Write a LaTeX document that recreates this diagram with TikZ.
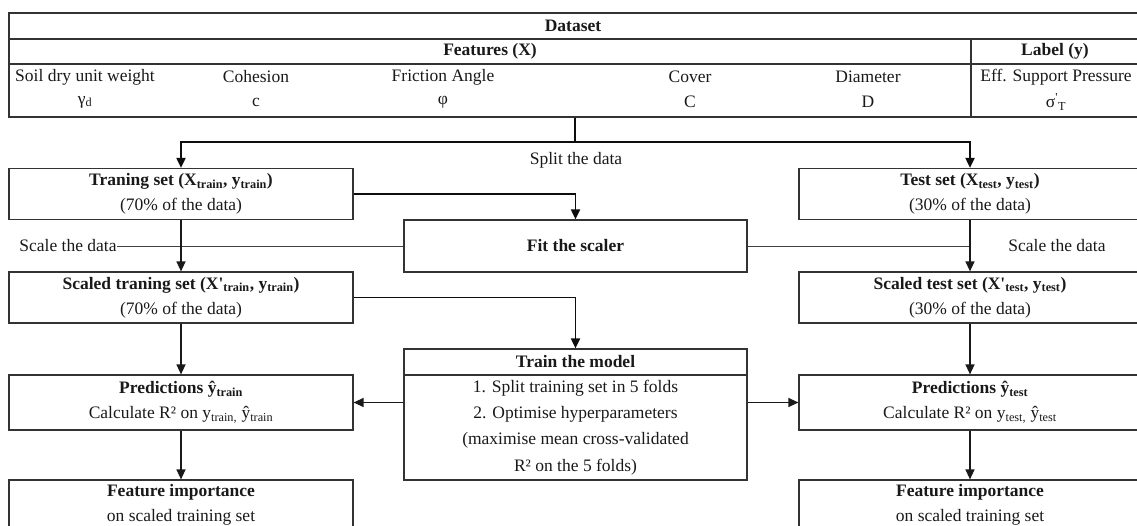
\documentclass[tikz,border=0pt]{standalone}
\usepackage{fontspec}
\setmainfont{Liberation Serif}
\usetikzlibrary{arrows.meta}
\begin{document}
\begin{tikzpicture}[x=1pt,y=-1pt,
  every node/.style={font=\fontsize{17.5}{25}\selectfont, inner sep=0pt, text=black!90},
  box/.style={draw=black!80, line width=1.2pt, inner sep=0pt, align=center},
  hd/.style={font=\fontsize{17.5}{25}\selectfont\bfseries},
  conn/.style={draw=black!90, line width=1.3pt},
  bold conn/.style={draw=black!95, line width=1.9pt},
  thinline/.style={draw=black!75, line width=0.9pt},
  arr/.style={-{Triangle[length=10pt,width=9pt]}}]
\useasboundingbox (0,0) rectangle (1137,526);
\clip (0,0) rectangle (1137,526);
% ---------------- table ----------------
\node[box, minimum width=1132pt, minimum height=104pt] (table) at (575,65) {};
\draw[draw=black!80, line width=1.2pt] (9,39) -- (1141,39);
\draw[draw=black!80, line width=1.2pt] (9,64) -- (1141,64);
\draw[draw=black!80, line width=1.2pt] (971,39) -- (971,117);
\node[hd] (tds) at (573,26) {Dataset};
\node[hd] (tfx) at (490,51) {Features (X)};
\node[hd] (tly) at (1055,51) {Label (y)};
\node (c1) at (85,77) {Soil dry unit weight};
\node (c2) at (256,77) {Cohesion};
\node (c3) at (443,77) {Friction Angle};
\node (c4) at (690,77) {Cover};
\node (c5) at (868,77) {Diameter};
\node (c6) at (1056,77) {Eff. Support Pressure};
\node (s1) at (85,102) {γ\textsubscript{d}};
\node (s2) at (256,102) {c};
\node (s3) at (443,102) {φ};
\node (s4) at (690,102) {C};
\node (s5) at (868,102) {D};
\node (s6) at (1056,102) {σ\textsuperscript{\textquotesingle}\textsubscript{T}};
% ---------------- boxes ----------------
\node[box, minimum width=344pt, minimum height=51pt] (train) at (181,194)
  {\textbf{Traning set (X\textsubscript{train}, y\textsubscript{train})}\\(70\% of the data)};
\node[box, minimum width=342pt, minimum height=51pt] (test) at (970,194)
  {\textbf{Test set (X\textsubscript{test}, y\textsubscript{test})}\\(30\% of the data)};
\node[box, minimum width=343pt, minimum height=52pt] (fit) at (575.5,246)
  {\textbf{Fit the scaler}};
\node[box, minimum width=344pt, minimum height=51pt] (strain) at (181,297.5)
  {\textbf{Scaled traning set (X\textquotesingle\textsubscript{train}, y\textsubscript{train})}\\(70\% of the data)};
\node[box, minimum width=342pt, minimum height=51pt] (stest) at (970,297.5)
  {\textbf{Scaled test set (X\textquotesingle\textsubscript{test}, y\textsubscript{test})}\\(30\% of the data)};
\node[box, minimum width=343pt, minimum height=131pt] (model) at (575.5,414.5) {};
\draw[draw=black!80, line width=1.2pt] (model.west |- 0,375) -- (model.east |- 0,375);
\node[hd] (modelhd) at (575.5,362) {Train the model};
\node[align=center, font=\fontsize{17.5}{26.3}\selectfont] (modelbody) at (575.5,427.5)
  {1. Split training set in 5 folds\\2. Optimise hyperparameters\\(maximise mean cross-validated\\R² on the 5 folds)};
\node[box, minimum width=344pt, minimum height=55pt] (ptrain) at (181,402.5)
  {\textbf{Predictions ŷ\textsubscript{train}}\\Calculate R² on y\textsubscript{train,} ŷ\textsubscript{train}};
\node[box, minimum width=342pt, minimum height=55pt] (ptest) at (970,402.5)
  {\textbf{Predictions ŷ\textsubscript{test}}\\Calculate R² on y\textsubscript{test,} ŷ\textsubscript{test}};
\node[box, minimum width=344pt, minimum height=50pt] (ftrain) at (181,505)
  {\textbf{Feature importance}\\on scaled training set};
\node[box, minimum width=342pt, minimum height=50pt] (ftest) at (970,505)
  {\textbf{Feature importance}\\on scaled training set};
% ---------------- connectors ----------------
\coordinate (sp) at (575,142);
\draw[bold conn] (table.south -| sp) -- (sp);
\draw[bold conn, arr] (sp) -| (train.north);
\draw[bold conn, arr] (sp) -| (test.north);
\node (splitlbl) at (576,160) {Split the data};
\draw[bold conn, arr] (train.east) -| (fit.north);
\node (scaleL) at (68,246) {Scale the data};
\node (scaleR) at (1057,246) {Scale the data};
\draw[thinline] (scaleL.east) -- (fit.west);
\draw[thinline] (fit.east) -- (fit.east -| test.south);
\draw[conn, arr] (train.south) -- (strain.north);
\draw[conn, arr] (test.south) -- (stest.north);
\draw[bold conn, arr] (strain.east) -| (model.north);
\draw[conn, arr] (strain.south) -- (ptrain.north);
\draw[conn, arr] (stest.south) -- (ptest.north);
\draw[conn, arr] (ptrain.east -| model.west) -- (ptrain.east);
\draw[conn, arr] (ptest.west -| model.east) -- (ptest.west);
\draw[conn, arr] (ptrain.south) -- (ftrain.north);
\draw[conn, arr] (ptest.south) -- (ftest.north);
\end{tikzpicture}
\end{document}
